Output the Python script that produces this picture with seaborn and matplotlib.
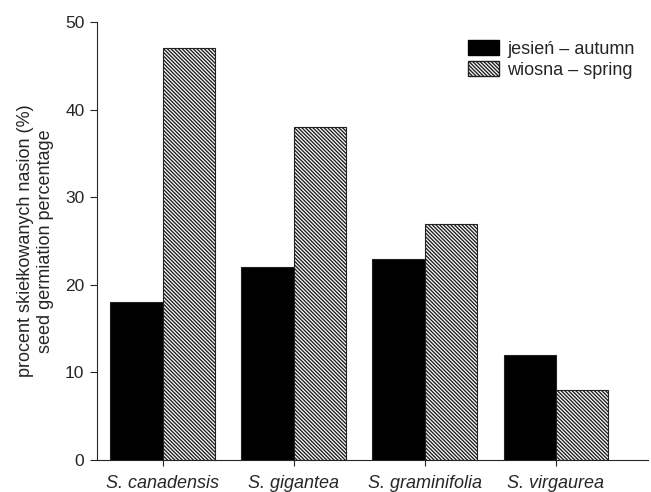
import matplotlib
matplotlib.use("Agg")
import matplotlib.pyplot as plt
import seaborn as sns
import pandas as pd
from matplotlib.patches import Patch

species = ["S. canadensis", "S. gigantea", "S. graminifolia", "S. virgaurea"]
autumn = [18, 22, 23, 12]
spring = [47, 38, 27, 8]
season_labels = ["jesień – autumn", "wiosna – spring"]

sns.set_style("ticks")
plt.rcParams["font.family"] = ["Liberation Sans", "DejaVu Sans"]
plt.rcParams["hatch.linewidth"] = 1.0
plt.rcParams["hatch.color"] = "#707070"

HATCH = "\\" * 9

df = pd.DataFrame({
    "species": species * 2,
    "season": [season_labels[0]] * 4 + [season_labels[1]] * 4,
    "value": autumn + spring,
})

fig = plt.figure(figsize=(6.51, 4.92), dpi=100)
ax = fig.add_axes([0.149, 0.065, 0.846, 0.89])

sns.barplot(data=df, x="species", y="value", hue="season",
            palette=["black", "white"], width=0.8, gap=0,
            edgecolor="#222222", linewidth=0.8, ax=ax, legend=False)

for patch in ax.patches[len(autumn):]:
    patch.set_hatch(HATCH)

ax.set_ylim(0, 50)
ax.set_xlim(-0.5, 3.7)
ax.set_yticks(range(0, 51, 10))
ax.tick_params(axis="y", labelsize=12.5, length=5, width=0.8, pad=4)
ax.tick_params(axis="x", labelsize=13, length=4, width=0.8, pad=7)
for lbl in ax.get_xticklabels():
    lbl.set_fontstyle("italic")
ax.set_xlabel("")
ax.set_ylabel("procent skiełkowanych nasion (%)\nseed germiation percentage",
              fontsize=13, labelpad=8, linespacing=1.25)
for side in ["top", "right"]:
    ax.spines[side].set_visible(False)
for side in ["left", "bottom"]:
    ax.spines[side].set_linewidth(0.8)

handles = [Patch(facecolor="black", edgecolor="black"),
           Patch(facecolor="white", edgecolor="#222222", hatch=HATCH)]
ax.legend(handles, season_labels, loc="upper left",
          bbox_to_anchor=(0.66, 0.975), frameon=False, fontsize=13,
          handlelength=1.75, handleheight=0.85, handletextpad=0.45,
          labelspacing=0.2, borderaxespad=0)

fig.savefig("out.png", dpi=100)
